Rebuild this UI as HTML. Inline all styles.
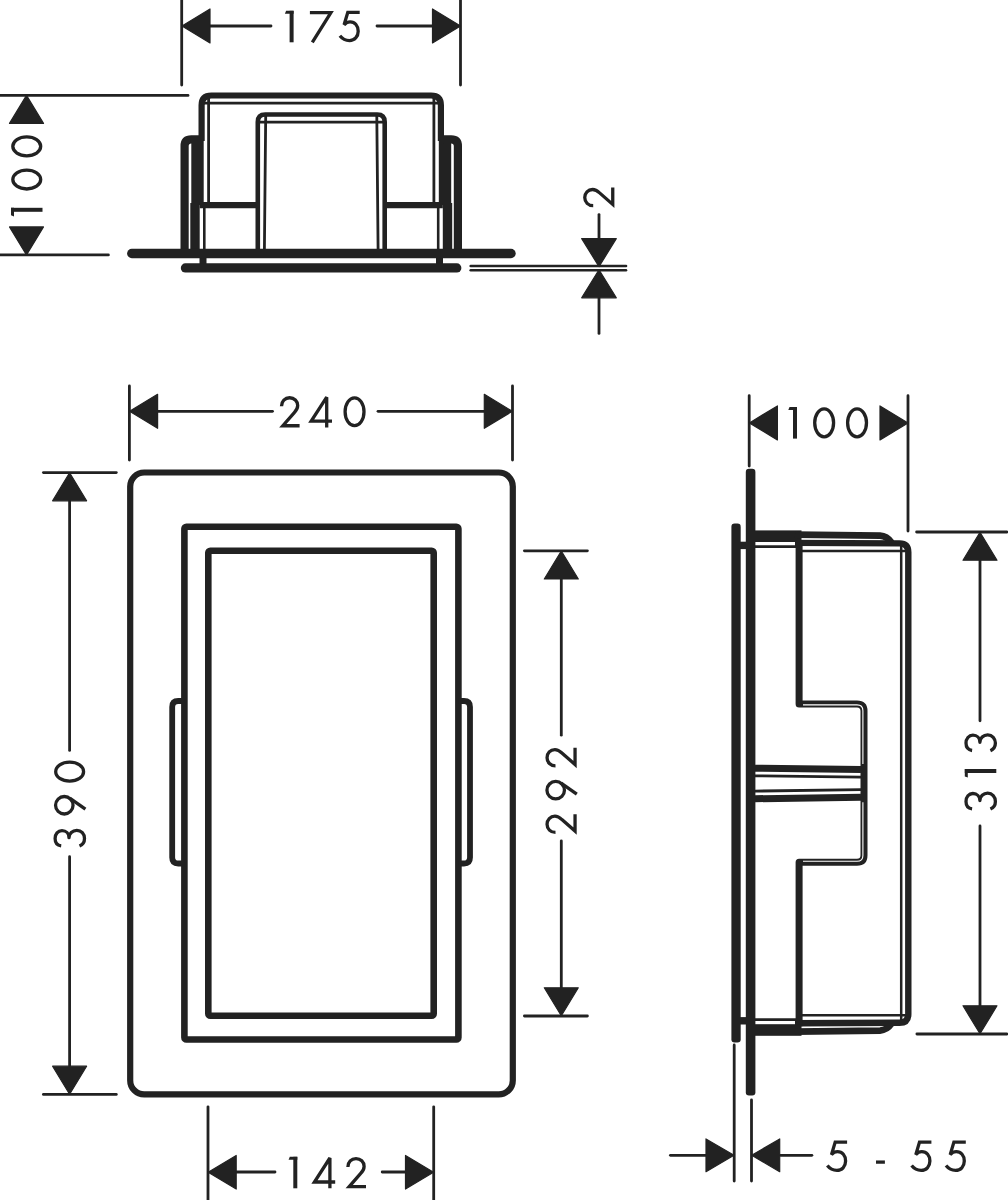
<!DOCTYPE html>
<html><head><meta charset="utf-8"><title>Drawing</title>
<style>
html,body{margin:0;padding:0;background:#fff;}
body{width:1008px;height:1200px;overflow:hidden;font-family:"Liberation Sans",sans-serif;}
svg{display:block;}
</style></head>
<body>
<svg width="1008" height="1200" viewBox="0 0 1008 1200">
<rect width="1008" height="1200" fill="#fff"/>
<g fill="none" stroke="#222" stroke-width="3.3" stroke-linecap="butt" stroke-linejoin="round">
<path d="M0,95.4 L188,95.4" stroke-width="2.8" stroke-linecap="round"/><path d="M0,254.9 L108.4,254.9" stroke-width="2.8" stroke-linecap="round"/><polygon points="26.50,95.40 9.50,123.40 43.50,123.40" fill="#222" stroke="#222" stroke-width="1.2" stroke-linejoin="round"/><polygon points="26.50,254.90 9.50,226.90 43.50,226.90" fill="#222" stroke="#222" stroke-width="1.2" stroke-linejoin="round"/><g transform="translate(11,216.8) rotate(-90)"><path d="M7,0 V31.5" stroke-width="4"/><polygon points="1.5,0 9,0 9,3 0.3,3" fill="#222" stroke="none"/></g><g transform="translate(11,190.8) rotate(-90)"><ellipse cx="11.25" cy="15.75" rx="9.45" ry="13.95"/></g><g transform="translate(11,157.6) rotate(-90)"><ellipse cx="11.25" cy="15.75" rx="9.45" ry="13.95"/></g><path d="M181.7,-2 L181.7,85" stroke-width="2.8" stroke-linecap="round"/><path d="M460.5,-2 L460.5,85" stroke-width="2.8" stroke-linecap="round"/><path d="M210,26 L271,26" stroke-width="2.8" stroke-linecap="round"/><path d="M377,26 L432,26" stroke-width="2.8" stroke-linecap="round"/><polygon points="182.00,26.00 210.00,9.00 210.00,43.00" fill="#222" stroke="#222" stroke-width="1.2" stroke-linejoin="round"/><polygon points="460.50,26.00 432.50,9.00 432.50,43.00" fill="#222" stroke="#222" stroke-width="1.2" stroke-linejoin="round"/><g transform="translate(284.6,10.8)"><path d="M7,0 V31.5" stroke-width="4"/><polygon points="1.5,0 9,0 9,3 0.3,3" fill="#222" stroke="none"/></g><g transform="translate(309.9,10.8)"><path d="M0,1.75 H21 L2.4,31.5" stroke-linejoin="miter" stroke-miterlimit="3"/></g><g transform="translate(338.5,10.8)"><path d="M21.2,1.5 H9.3 L5.6,14 C7.5,12 9.3,11.1 11.6,11.1 C16.4,11.1 19.7,14.9 19.7,20.4 C19.7,25.9 16,29.8 11,29.8 C6.8,29.8 3.6,27.8 1.4,25" stroke-linejoin="miter" stroke-miterlimit="3"/></g><path d="M470.7,266.0 L626,266.0" stroke-width="2.6" stroke-linecap="round"/><path d="M470.7,270.3 L626,270.3" stroke-width="2.6" stroke-linecap="round"/><path d="M599,214.6 L599,240" stroke-width="2.8" stroke-linecap="round"/><path d="M599,296 L599,333.4" stroke-width="2.8" stroke-linecap="round"/><polygon points="599.00,266.60 581.70,238.60 616.30,238.60" fill="#222" stroke="#222" stroke-width="1.2" stroke-linejoin="round"/><polygon points="599.00,269.80 581.70,297.80 616.30,297.80" fill="#222" stroke="#222" stroke-width="1.2" stroke-linejoin="round"/><g transform="translate(583,207.6) rotate(-90)"><path d="M1.9,10.2 C1.9,5.2 5.4,1.75 10,1.75 C14.6,1.75 18.1,5 18.1,9.6 C18.1,12.6 16.6,14.6 14.7,16.6 L3.2,29.75 L20,29.75" stroke-linejoin="miter" stroke-miterlimit="3"/></g><path d="M208.6,205 V97 M203,103.2 H439.5 M433.9,97 V205" stroke-width="2.8" fill="none"/><path d="M201.6,141 V105.3 Q201.6,95.5 211.4,95.5 H431.1 Q440.9,95.5 440.9,105.3 V141" stroke-width="6.2" fill="none"/><path d="M264.4,250 L265.7,116 M259,122.1 H384 M376.8,116 L378.1,250" stroke-width="2.8" fill="none"/><path d="M257.8,250 V122 Q257.8,114.5 265.3,114.5 H377.2 Q384.7,114.5 384.7,122 V250" stroke-width="4.6" fill="none"/><g><rect x="191.3" y="139" width="12.4" height="66" fill="#222" stroke="none"/><path d="M184.6,251 V146 Q184.6,139.3 191.3,139.3 H199" stroke-width="8.2" fill="none"/><path d="M184.6,251 V146" stroke-width="6.6" fill="none"/><rect x="190.3" y="203" width="9.4" height="47" fill="#222" stroke="none"/><path d="M204.3,205 V250" stroke-width="2.6"/><rect x="199.5" y="255" width="7" height="10" fill="#222" stroke="none"/><path d="M199.7,205.2 H258" stroke-width="6.2"/></g><g transform="translate(642.5,0) scale(-1,1)"><rect x="191.3" y="139" width="12.4" height="66" fill="#222" stroke="none"/><path d="M184.6,251 V146 Q184.6,139.3 191.3,139.3 H199" stroke-width="8.2" fill="none"/><path d="M184.6,251 V146" stroke-width="6.6" fill="none"/><rect x="190.3" y="203" width="9.4" height="47" fill="#222" stroke="none"/><path d="M204.3,205 V250" stroke-width="2.6"/><rect x="199.5" y="255" width="7" height="10" fill="#222" stroke="none"/><path d="M199.7,205.2 H258" stroke-width="6.2"/></g><path d="M131.8,253.5 L511,253.5" stroke-width="9.4" stroke-linecap="round"/><path d="M185.4,267.9 L456.8,267.9" stroke-width="9.2" stroke-linecap="round"/><path d="M129.4,386 L129.4,460" stroke-width="2.8" stroke-linecap="round"/><path d="M512.5,386 L512.5,460" stroke-width="2.8" stroke-linecap="round"/><path d="M157,411.3 L272.5,411.3" stroke-width="2.8" stroke-linecap="round"/><path d="M378,411.3 L484,411.3" stroke-width="2.8" stroke-linecap="round"/><polygon points="129.60,411.30 157.60,394.30 157.60,428.30" fill="#222" stroke="#222" stroke-width="1.2" stroke-linejoin="round"/><polygon points="512.30,411.30 484.30,394.30 484.30,428.30" fill="#222" stroke="#222" stroke-width="1.2" stroke-linejoin="round"/><g transform="translate(279.6,396)"><path d="M1.9,10.2 C1.9,5.2 5.4,1.75 10,1.75 C14.6,1.75 18.1,5 18.1,9.6 C18.1,12.6 16.6,14.6 14.7,16.6 L3.2,29.75 L20,29.75" stroke-linejoin="miter" stroke-miterlimit="3"/></g><g transform="translate(309.4,396)"><path d="M17.3,31.5 V1.2 L1.8,25.2 H22.6" stroke-linejoin="miter" stroke-miterlimit="2.2"/></g><g transform="translate(343.3,396)"><ellipse cx="11.25" cy="15.75" rx="9.45" ry="13.95"/></g><path d="M43.4,472.6 L116.3,472.6" stroke-width="2.8" stroke-linecap="round"/><path d="M43.4,1094.4 L116.3,1094.4" stroke-width="2.8" stroke-linecap="round"/><path d="M69.6,500 L69.6,750.4" stroke-width="2.8" stroke-linecap="round"/><path d="M69.6,856.7 L69.6,1066" stroke-width="2.8" stroke-linecap="round"/><polygon points="69.60,472.80 52.60,500.80 86.60,500.80" fill="#222" stroke="#222" stroke-width="1.2" stroke-linejoin="round"/><polygon points="69.60,1094.20 52.60,1066.20 86.60,1066.20" fill="#222" stroke="#222" stroke-width="1.2" stroke-linejoin="round"/><g transform="translate(53.9,847.9) rotate(-90)"><path d="M2,7.3 C2.5,3.4 5.5,1.2 9.4,1.2 C13.8,1.2 17.3,4 17.3,8.1 C17.3,12.2 14.2,15.1 10.2,15.1 C14.4,15.1 17.6,18.6 17.6,22.9 C17.6,27.4 14,30.6 9.4,30.6 C5.9,30.6 3.1,28.6 1.8,25.6"/></g><g transform="translate(53.9,815.8) rotate(-90)"><circle cx="10.55" cy="10.4" r="8.75"/><path d="M17.6,15.8 L6.6,31.5"/></g><g transform="translate(53.9,782.9) rotate(-90)"><ellipse cx="11.25" cy="15.75" rx="9.45" ry="13.95"/></g><path d="M524.4,550.8 L587.4,550.8" stroke-width="2.8" stroke-linecap="round"/><path d="M524.4,1016 L587.4,1016" stroke-width="2.8" stroke-linecap="round"/><path d="M561.3,578 L561.3,735.2" stroke-width="2.8" stroke-linecap="round"/><path d="M561.3,840.8 L561.3,988.5" stroke-width="2.8" stroke-linecap="round"/><polygon points="561.30,551.00 544.30,579.00 578.30,579.00" fill="#222" stroke="#222" stroke-width="1.2" stroke-linejoin="round"/><polygon points="561.30,1015.80 544.30,987.80 578.30,987.80" fill="#222" stroke="#222" stroke-width="1.2" stroke-linejoin="round"/><g transform="translate(545.3,834.3) rotate(-90)"><path d="M1.9,10.2 C1.9,5.2 5.4,1.75 10,1.75 C14.6,1.75 18.1,5 18.1,9.6 C18.1,12.6 16.6,14.6 14.7,16.6 L3.2,29.75 L20,29.75" stroke-linejoin="miter" stroke-miterlimit="3"/></g><g transform="translate(545.3,800.7) rotate(-90)"><circle cx="10.55" cy="10.4" r="8.75"/><path d="M17.6,15.8 L6.6,31.5"/></g><g transform="translate(545.3,767.7) rotate(-90)"><path d="M1.9,10.2 C1.9,5.2 5.4,1.75 10,1.75 C14.6,1.75 18.1,5 18.1,9.6 C18.1,12.6 16.6,14.6 14.7,16.6 L3.2,29.75 L20,29.75" stroke-linejoin="miter" stroke-miterlimit="3"/></g><path d="M208,1106.8 L208,1202" stroke-width="2.8" stroke-linecap="round"/><path d="M433.7,1106.8 L433.7,1202" stroke-width="2.8" stroke-linecap="round"/><path d="M236,1172 L275,1172" stroke-width="2.8" stroke-linecap="round"/><path d="M382.2,1172 L405.5,1172" stroke-width="2.8" stroke-linecap="round"/><polygon points="208.20,1172.30 236.20,1155.50 236.20,1189.10" fill="#222" stroke="#222" stroke-width="1.2" stroke-linejoin="round"/><polygon points="433.50,1172.30 405.50,1155.50 405.50,1189.10" fill="#222" stroke="#222" stroke-width="1.2" stroke-linejoin="round"/><g transform="translate(288.3,1156.8)"><path d="M7,0 V31.5" stroke-width="4"/><polygon points="1.5,0 9,0 9,3 0.3,3" fill="#222" stroke="none"/></g><g transform="translate(312.6,1156.8)"><path d="M17.3,31.5 V1.2 L1.8,25.2 H22.6" stroke-linejoin="miter" stroke-miterlimit="2.2"/></g><g transform="translate(346.0,1156.8)"><path d="M1.9,10.2 C1.9,5.2 5.4,1.75 10,1.75 C14.6,1.75 18.1,5 18.1,9.6 C18.1,12.6 16.6,14.6 14.7,16.6 L3.2,29.75 L20,29.75" stroke-linejoin="miter" stroke-miterlimit="3"/></g><rect x="130.2" y="472.5" width="382.6" height="621.9" rx="14" ry="14" stroke-width="6.2" fill="none"/><rect x="184.4" y="526.7" width="274" height="512.8" rx="2" ry="2" stroke-width="6.6" fill="none"/><rect x="208.3" y="550.7" width="225.4" height="465" rx="2" ry="2" stroke-width="6.6" fill="none"/><path d="M184.4,701 H178.2 Q172.2,701 172.2,707 V857.5 Q172.2,863.5 178.2,863.5 H184.4" stroke-width="5.8" fill="none"/><path d="M458.4,701 H464 Q470,701 470,707 V857.5 Q470,863.5 464,863.5 H458.4" stroke-width="5.8" fill="none"/><path d="M749.2,395.7 L749.2,466" stroke-width="2.8" stroke-linecap="round"/><path d="M908,395.7 L908,531" stroke-width="2.8" stroke-linecap="round"/><polygon points="749.40,422.90 777.40,405.90 777.40,439.90" fill="#222" stroke="#222" stroke-width="1.2" stroke-linejoin="round"/><polygon points="908.00,422.90 880.00,405.90 880.00,439.90" fill="#222" stroke="#222" stroke-width="1.2" stroke-linejoin="round"/><g transform="translate(788.0,407.1)"><path d="M7,0 V31.5" stroke-width="4"/><polygon points="1.5,0 9,0 9,3 0.3,3" fill="#222" stroke="none"/></g><g transform="translate(812.9,407.1)"><ellipse cx="11.25" cy="15.75" rx="9.45" ry="13.95"/></g><g transform="translate(845.8,407.1)"><ellipse cx="11.25" cy="15.75" rx="9.45" ry="13.95"/></g><path d="M916.6,532 L1007,532" stroke-width="2.8" stroke-linecap="round"/><path d="M916.9,1034 L1007,1034" stroke-width="2.8" stroke-linecap="round"/><path d="M980,559 L980,720.8" stroke-width="2.8" stroke-linecap="round"/><path d="M980,826 L980,1006.5" stroke-width="2.8" stroke-linecap="round"/><polygon points="980.00,532.20 963.00,560.20 997.00,560.20" fill="#222" stroke="#222" stroke-width="1.2" stroke-linejoin="round"/><polygon points="980.00,1033.80 963.00,1005.80 997.00,1005.80" fill="#222" stroke="#222" stroke-width="1.2" stroke-linejoin="round"/><g transform="translate(964.8,810.8) rotate(-90)"><path d="M2,7.3 C2.5,3.4 5.5,1.2 9.4,1.2 C13.8,1.2 17.3,4 17.3,8.1 C17.3,12.2 14.2,15.1 10.2,15.1 C14.4,15.1 17.6,18.6 17.6,22.9 C17.6,27.4 14,30.6 9.4,30.6 C5.9,30.6 3.1,28.6 1.8,25.6"/></g><g transform="translate(964.8,777.9) rotate(-90)"><path d="M7,0 V31.5" stroke-width="4"/><polygon points="1.5,0 9,0 9,3 0.3,3" fill="#222" stroke="none"/></g><g transform="translate(964.8,752.5) rotate(-90)"><path d="M2,7.3 C2.5,3.4 5.5,1.2 9.4,1.2 C13.8,1.2 17.3,4 17.3,8.1 C17.3,12.2 14.2,15.1 10.2,15.1 C14.4,15.1 17.6,18.6 17.6,22.9 C17.6,27.4 14,30.6 9.4,30.6 C5.9,30.6 3.1,28.6 1.8,25.6"/></g><path d="M734.2,1045 L734.2,1181" stroke-width="2.8" stroke-linecap="round"/><path d="M751.5,1100 L751.5,1181" stroke-width="2.8" stroke-linecap="round"/><path d="M670.4,1155.3 L707,1155.3" stroke-width="2.8" stroke-linecap="round"/><path d="M780.5,1155.3 L811.9,1155.3" stroke-width="2.8" stroke-linecap="round"/><polygon points="734.00,1155.30 706.00,1138.90 706.00,1171.70" fill="#222" stroke="#222" stroke-width="1.2" stroke-linejoin="round"/><polygon points="751.70,1155.30 779.70,1138.90 779.70,1171.70" fill="#222" stroke="#222" stroke-width="1.2" stroke-linejoin="round"/><g transform="translate(825.9,1140.6)"><path d="M21.2,1.5 H9.3 L5.6,14 C7.5,12 9.3,11.1 11.6,11.1 C16.4,11.1 19.7,14.9 19.7,20.4 C19.7,25.9 16,29.8 11,29.8 C6.8,29.8 3.6,27.8 1.4,25" stroke-linejoin="miter" stroke-miterlimit="3"/></g><g transform="translate(875.7,1140.6)"><path d="M0.3,21.5 H9.2"/></g><g transform="translate(910.2,1140.6)"><path d="M21.2,1.5 H9.3 L5.6,14 C7.5,12 9.3,11.1 11.6,11.1 C16.4,11.1 19.7,14.9 19.7,20.4 C19.7,25.9 16,29.8 11,29.8 C6.8,29.8 3.6,27.8 1.4,25" stroke-linejoin="miter" stroke-miterlimit="3"/></g><g transform="translate(944.6,1140.6)"><path d="M21.2,1.5 H9.3 L5.6,14 C7.5,12 9.3,11.1 11.6,11.1 C16.4,11.1 19.7,14.9 19.7,20.4 C19.7,25.9 16,29.8 11,29.8 C6.8,29.8 3.6,27.8 1.4,25" stroke-linejoin="miter" stroke-miterlimit="3"/></g><rect x="731.4" y="523.6" width="9.3" height="518.8" rx="3.2" fill="#222" stroke="none"/><rect x="745.8" y="468.8" width="9.6" height="626.6" rx="3.2" fill="#222" stroke="none"/><path d="M802,551 H906.5 M901.2,546 V1020.2 M802,1015.2 H906.5" stroke-width="2.5" fill="none"/><path d="M795,542.9 L899.5,543.4 Q908.3,543.4 908.3,552.2 V1014 Q908.3,1022.8 899.5,1022.8 L795,1023.3" stroke-width="6.4" fill="none"/><path d="M799.1,540 V703.9 H857 Q864,703.9 864,710.9 V855.3 Q864,862.3 857,862.3 H799.1 V1026.2" stroke-width="7" fill="none"/><g><rect x="740" y="541.7" width="6.5" height="7.4" fill="#222" stroke="none"/><rect x="754.5" y="530.4" width="47" height="11.6" fill="#222" stroke="none"/><path d="M795,534.6 L880,535.6 Q887,536 891.5,542.5" stroke-width="6.6" fill="none"/><path d="M755,546.65 H796" stroke-width="2.7"/><path d="M803,704.9 H857 Q862.9,704.9 862.9,710.8 V764" stroke="#fff" stroke-width="1.1" fill="none"/></g><g transform="translate(0,1566.2) scale(1,-1)"><rect x="740" y="541.7" width="6.5" height="7.4" fill="#222" stroke="none"/><rect x="754.5" y="530.4" width="47" height="11.6" fill="#222" stroke="none"/><path d="M795,534.6 L880,535.6 Q887,536 891.5,542.5" stroke-width="6.6" fill="none"/><path d="M755,546.65 H796" stroke-width="2.7"/><path d="M803,704.9 H857 Q862.9,704.9 862.9,710.8 V764" stroke="#fff" stroke-width="1.1" fill="none"/></g><path d="M755,768.2 L861,769.6" stroke-width="7"/><path d="M755,775.8 L861,777.2" stroke-width="2.8"/><path d="M755,791.1 L861,789.7" stroke-width="2.8"/><path d="M755,798.75 L861,797.2" stroke-width="7"/>
</g>
</svg>
</body></html>
